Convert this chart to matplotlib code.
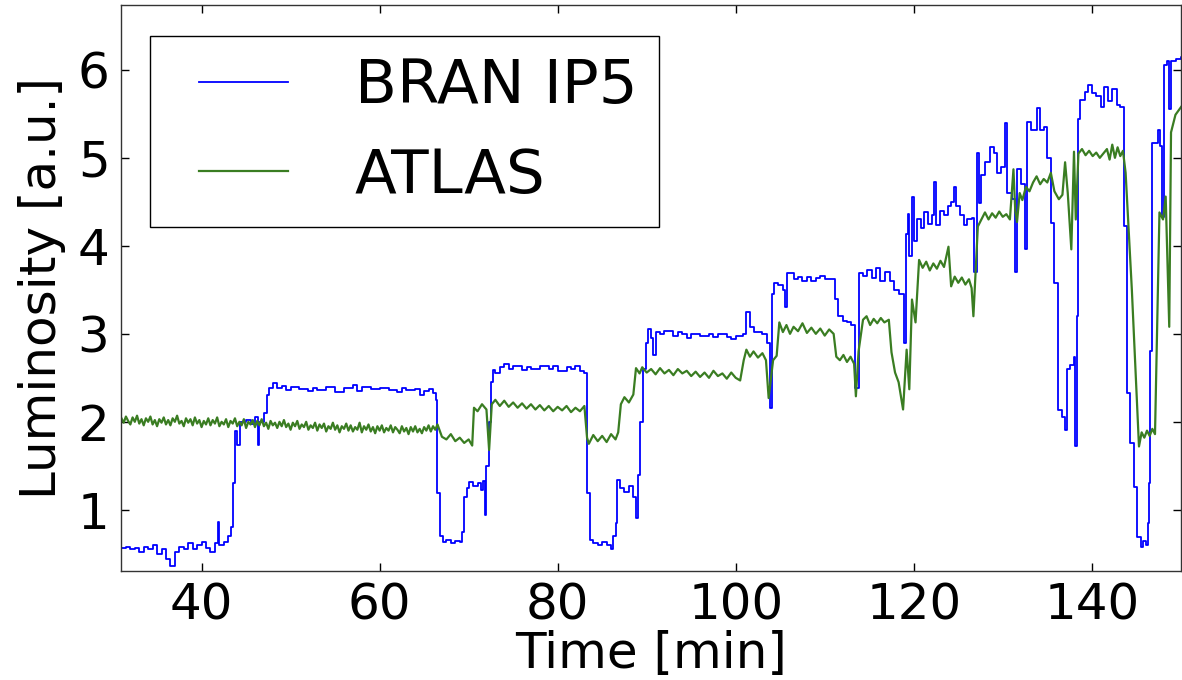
import numpy as np
import matplotlib.pyplot as plt
from matplotlib.lines import Line2D
from matplotlib.legend_handler import HandlerLine2D

# %% luminosity traces, (time [min], luminosity [a.u.])
bran_ip5 = [
    (31.0, 0.57), (31.5, 0.58), (32.0, 0.55), (32.5, 0.57), (33.0, 0.52), (33.5, 0.58),
    (34.0, 0.55), (34.5, 0.60), (35.0, 0.50), (35.5, 0.56), (36.0, 0.44), (36.5, 0.36),
    (37.0, 0.52), (37.5, 0.58), (38.0, 0.56), (38.5, 0.62), (39.0, 0.55), (39.5, 0.60),
    (40.0, 0.63), (40.5, 0.57), (41.0, 0.52), (41.5, 0.62), (41.8, 0.86), (42.0, 0.60),
    (42.5, 0.63), (43.0, 0.70), (43.3, 0.80), (43.5, 1.30), (43.7, 1.90), (44.0, 1.74),
    (44.3, 2.00), (45.0, 2.02), (45.5, 1.97), (46.0, 2.05), (46.3, 1.74), (46.5, 2.00),
    (47.0, 2.10), (47.4, 2.30), (47.6, 2.39), (48.0, 2.44), (48.5, 2.38), (49.0, 2.41),
    (49.5, 2.36), (50.0, 2.40), (51.0, 2.37), (52.0, 2.35), (52.5, 2.38), (53.0, 2.36),
    (54.0, 2.40), (55.0, 2.34), (56.0, 2.38), (57.0, 2.42), (57.5, 2.35), (58.0, 2.40),
    (59.0, 2.37), (60.0, 2.38), (61.0, 2.36), (62.0, 2.34), (62.5, 2.38), (63.0, 2.36),
    (64.0, 2.37), (64.5, 2.30), (65.0, 2.35), (65.5, 2.37), (66.0, 2.33), (66.3, 2.25),
    (66.5, 1.19), (66.8, 0.70), (67.1, 0.63), (67.5, 0.66), (68.0, 0.62), (68.5, 0.65),
    (69.0, 0.63), (69.3, 0.75), (69.5, 1.15), (69.8, 1.25), (70.0, 1.32), (70.5, 1.27),
    (71.0, 1.30), (71.4, 1.22), (71.6, 1.33), (71.8, 0.94), (72.0, 1.50), (72.3, 2.00),
    (72.5, 2.45), (72.7, 2.59), (73.0, 2.55), (73.5, 2.62), (74.0, 2.66), (74.5, 2.60),
    (75.0, 2.63), (76.0, 2.59), (76.5, 2.62), (77.0, 2.60), (78.0, 2.63), (79.0, 2.60),
    (79.5, 2.64), (80.0, 2.58), (81.0, 2.62), (81.5, 2.60), (82.0, 2.63), (82.5, 2.58),
    (83.0, 2.55), (83.3, 1.19), (83.6, 0.66), (84.0, 0.62), (84.5, 0.60), (85.0, 0.63),
    (85.5, 0.60), (86.0, 0.56), (86.2, 0.70), (86.5, 0.85), (86.7, 1.34), (87.0, 1.25),
    (87.5, 1.20), (88.0, 1.27), (88.5, 1.15), (88.8, 0.91), (89.0, 1.40), (89.3, 2.00),
    (89.6, 2.60), (89.9, 2.90), (90.1, 3.05), (90.5, 2.95), (90.7, 2.76), (91.0, 3.02),
    (91.5, 3.00), (92.0, 3.03), (93.0, 2.98), (93.5, 3.02), (94.0, 3.00), (94.5, 2.95),
    (95.0, 3.00), (96.0, 2.97), (97.0, 3.00), (97.5, 2.96), (98.0, 3.00), (99.0, 2.96),
    (99.5, 2.94), (100.0, 2.97), (100.8, 3.00), (101.2, 3.25), (101.6, 3.08), (102.1, 3.02),
    (103.0, 3.00), (103.5, 2.90), (103.8, 2.16), (104.1, 3.45), (104.3, 3.58), (104.8, 3.55),
    (105.3, 3.50), (105.5, 3.31), (105.8, 3.69), (106.5, 3.62), (107.0, 3.65), (107.5, 3.60),
    (108.0, 3.65), (108.5, 3.60), (109.0, 3.63), (109.5, 3.66), (110.0, 3.62), (110.5, 3.62),
    (111.2, 3.40), (111.5, 3.20), (112.0, 3.15), (112.5, 3.13), (113.0, 3.10), (113.4, 2.39),
    (113.8, 3.69), (114.3, 3.66), (114.8, 3.72), (115.3, 3.64), (115.8, 3.75), (116.2, 3.60),
    (116.8, 3.70), (117.3, 3.60), (117.8, 3.50), (118.3, 3.45), (118.9, 2.90), (119.1, 4.13),
    (119.3, 4.36), (119.5, 3.88), (119.8, 4.56), (120.0, 4.05), (120.4, 4.30), (120.8, 4.20),
    (121.2, 4.38), (121.6, 4.25), (122.0, 4.35), (122.3, 4.72), (122.5, 4.24), (122.9, 4.40),
    (123.4, 4.35), (123.8, 4.45), (124.2, 4.50), (124.5, 4.67), (124.8, 4.45), (125.2, 4.35),
    (125.6, 4.24), (126.0, 4.30), (126.5, 4.32), (126.8, 3.70), (127.1, 5.06), (127.3, 4.49),
    (127.6, 4.80), (128.0, 4.95), (128.6, 5.12), (129.0, 5.05), (129.4, 4.83), (129.8, 4.90),
    (130.2, 5.40), (130.5, 4.60), (131.0, 4.53), (131.4, 3.70), (131.6, 4.87), (132.0, 4.70),
    (132.5, 3.96), (132.7, 5.41), (133.2, 5.32), (133.8, 5.57), (134.2, 5.32), (134.6, 5.35),
    (135.0, 5.00), (135.4, 4.26), (135.7, 3.58), (136.2, 2.14), (136.6, 2.06), (137.0, 1.91),
    (137.2, 2.60), (137.6, 2.65), (138.0, 2.74), (138.1, 1.72), (138.3, 3.20), (138.5, 5.44),
    (138.7, 5.66), (139.2, 5.75), (139.6, 5.83), (140.0, 5.74), (140.5, 5.70), (141.0, 5.58),
    (141.4, 5.80), (141.8, 5.65), (142.3, 5.78), (142.8, 5.60), (143.2, 5.58), (143.6, 4.22),
    (143.9, 2.33), (144.3, 1.76), (144.7, 1.26), (145.1, 0.69), (145.5, 0.58), (145.8, 0.64),
    (146.1, 0.60), (146.3, 0.85), (146.4, 1.30), (146.5, 2.80), (146.8, 5.17), (147.4, 5.32),
    (147.7, 5.13), (147.9, 4.33), (148.1, 6.06), (148.5, 6.10), (148.7, 5.55), (148.9, 6.10),
    (149.5, 6.12), (150.0, 6.15), (150.5, 6.13),
]

# ATLAS, first part sampled every 0.25 min
atlas_early_t = np.arange(31.0, 66.6, 0.25)
atlas_early_v = [
    2.04, 1.99, 2.06, 2.01, 1.97, 2.05, 2.00, 2.07, 1.98, 2.03,
    1.96, 2.04, 2.00, 2.06, 1.97, 2.02, 1.95, 2.03, 1.99, 2.05,
    1.97, 2.02, 1.96, 2.04, 2.00, 2.07, 1.98, 2.01, 1.95, 2.04,
    1.99, 2.03, 1.96, 2.05, 1.98, 2.02, 1.94, 2.01, 1.97, 2.04,
    1.96, 2.02, 1.98, 2.05, 1.95, 2.00, 1.97, 2.03, 1.94, 2.01,
    1.98, 2.04, 1.95, 2.00, 1.96, 2.03, 1.93, 2.00, 1.97, 2.02,
    1.94, 2.01, 1.96, 2.03, 1.95, 1.99, 1.92, 2.01, 1.96, 1.99,
    1.93, 2.00, 1.95, 2.02, 1.94, 1.98, 1.91, 1.99, 1.95, 2.01,
    1.92, 1.97, 1.94, 2.00, 1.91, 1.96, 1.93, 1.99, 1.90, 1.97,
    1.93, 1.98, 1.89, 1.95, 1.92, 1.99, 1.91, 1.96, 1.88, 1.95,
    1.92, 1.98, 1.90, 1.96, 1.89, 1.94, 1.91, 1.99, 1.88, 1.95,
    1.91, 1.97, 1.89, 1.94, 1.87, 1.95, 1.90, 1.96, 1.88, 1.93,
    1.90, 1.96, 1.88, 1.94, 1.91, 1.87, 1.95, 1.89, 1.93, 1.86,
    1.94, 1.89, 1.95, 1.88, 1.92, 1.87, 1.94, 1.90, 1.96, 1.89,
    1.95, 1.91, 1.97,
]
atlas_late = [
    (67.0, 1.83), (67.5, 1.80), (68.0, 1.86), (68.5, 1.78), (69.0, 1.82), (69.5, 1.76),
    (70.0, 1.80), (70.4, 1.73), (70.6, 2.16), (71.0, 2.12), (71.5, 2.20), (72.0, 2.14),
    (72.3, 1.68), (72.6, 2.20), (73.0, 2.25), (73.5, 2.18), (74.0, 2.24), (74.5, 2.17),
    (75.0, 2.22), (75.5, 2.16), (76.0, 2.21), (76.5, 2.15), (77.0, 2.20), (77.5, 2.14),
    (78.0, 2.19), (78.5, 2.13), (79.0, 2.18), (79.5, 2.12), (80.0, 2.17), (80.5, 2.13),
    (81.0, 2.18), (81.5, 2.11), (82.0, 2.16), (82.5, 2.12), (83.0, 2.18), (83.3, 1.82),
    (83.5, 1.75), (84.0, 1.85), (84.5, 1.78), (85.0, 1.84), (85.5, 1.77), (86.0, 1.86),
    (86.5, 1.80), (86.8, 1.88), (87.1, 2.20), (87.5, 2.28), (88.0, 2.22), (88.5, 2.31),
    (88.8, 2.61), (89.2, 2.55), (89.5, 2.62), (90.0, 2.56), (90.5, 2.60), (91.0, 2.54),
    (91.5, 2.61), (92.0, 2.55), (92.5, 2.59), (93.0, 2.53), (93.5, 2.60), (94.0, 2.55),
    (94.5, 2.58), (95.0, 2.52), (95.5, 2.57), (96.0, 2.51), (96.5, 2.56), (97.0, 2.50),
    (97.5, 2.58), (98.0, 2.52), (98.5, 2.55), (99.0, 2.49), (99.5, 2.56), (100.0, 2.50),
    (100.5, 2.47), (100.9, 2.70), (101.2, 2.82), (101.6, 2.74), (102.0, 2.80), (102.5, 2.73),
    (103.0, 2.78), (103.4, 2.70), (103.7, 2.27), (104.2, 2.70), (104.6, 2.75), (104.9, 3.13),
    (105.3, 3.02), (105.7, 3.10), (106.1, 3.00), (106.5, 3.08), (107.0, 3.03), (107.5, 3.12),
    (108.0, 3.01), (108.5, 3.07), (109.0, 3.00), (109.5, 3.06), (110.0, 2.98), (110.5, 3.05),
    (111.0, 3.00), (111.3, 2.74), (111.7, 2.70), (112.1, 2.76), (112.5, 2.68), (112.9, 2.74),
    (113.3, 2.66), (113.5, 2.29), (113.8, 2.80), (114.3, 3.16), (114.7, 3.20), (115.1, 3.10),
    (115.5, 3.17), (115.9, 3.12), (116.3, 3.18), (116.7, 3.13), (117.2, 3.16), (117.5, 2.79),
    (117.9, 2.56), (118.3, 2.45), (118.8, 2.14), (119.2, 2.82), (119.5, 2.37), (119.8, 3.39),
    (120.2, 3.13), (120.6, 3.84), (121.0, 3.75), (121.4, 3.82), (121.8, 3.72), (122.2, 3.80),
    (122.6, 3.74), (123.0, 3.83), (123.4, 3.76), (123.9, 3.99), (124.2, 3.54), (124.6, 3.65),
    (125.0, 3.58), (125.4, 3.64), (125.8, 3.56), (126.2, 3.62), (126.5, 3.52), (126.7, 3.20),
    (127.2, 4.22), (127.6, 4.30), (128.0, 4.38), (128.4, 4.30), (128.8, 4.37), (129.2, 4.32),
    (129.6, 4.39), (130.0, 4.33), (130.4, 4.36), (130.8, 4.30), (131.2, 4.87), (131.4, 4.40),
    (131.6, 4.27), (131.9, 4.60), (132.2, 4.52), (132.6, 4.67), (133.0, 4.62), (133.4, 4.72),
    (133.8, 4.79), (134.2, 4.70), (134.6, 4.76), (135.0, 4.72), (135.4, 4.83), (135.8, 4.62),
    (136.3, 4.53), (136.7, 4.58), (137.0, 4.95), (137.3, 4.60), (137.7, 3.96), (138.0, 5.07),
    (138.2, 4.30), (138.5, 5.05), (138.9, 5.10), (139.3, 5.03), (139.7, 5.08), (140.1, 5.02),
    (140.5, 5.06), (140.9, 5.00), (141.3, 5.05), (141.7, 5.10), (142.0, 4.98), (142.3, 5.15),
    (142.6, 5.00), (142.9, 5.12), (143.2, 5.02), (143.5, 5.08), (143.8, 4.83), (144.2, 4.07),
    (144.5, 3.50), (145.1, 2.17), (145.3, 1.72), (145.6, 1.88), (145.9, 1.82), (146.2, 1.90),
    (146.5, 1.84), (146.8, 1.92), (147.1, 1.86), (147.6, 4.38), (148.0, 4.30), (148.3, 4.56),
    (148.7, 3.08), (148.9, 5.29), (149.4, 5.49), (149.9, 5.56), (150.4, 5.63),
]

bran_t, bran_v = np.array(bran_ip5).T
atlas_t = np.concatenate([atlas_early_t, np.array(atlas_late)[:, 0]])
atlas_v = np.concatenate([atlas_early_v, np.array(atlas_late)[:, 1]])

# %% plot
fig = plt.figure(figsize=(11.82, 6.8), dpi=100)
ax = fig.add_axes([0.102, 0.161, 0.897, 0.832])

ax.plot(bran_t, bran_v, color='#0000ff', lw=1.3, drawstyle='steps-post', label='BRAN IP5')
ax.plot(atlas_t, atlas_v, color='#3a7d22', lw=1.6, label='ATLAS')

ax.set_xlim(30.9, 150.0)
ax.set_ylim(0.31, 6.74)
ax.set_xticks([40, 60, 80, 100, 120, 140])
ax.set_yticks([1, 2, 3, 4, 5, 6])
ax.tick_params(direction='in', length=6, width=1, top=True, right=True,
               labelsize=36, pad=8)
for s in ax.spines.values():
    s.set_linewidth(1.0)
    s.set_color('#333333')

ax.set_xlabel('Time [min]', fontsize=36, labelpad=0)
ax.set_ylabel('Luminosity [a.u.]', fontsize=36, labelpad=8)

# legend handle inset a little from the frame edge
leg = ax.legend(loc='upper left', bbox_to_anchor=(0.028, 0.945), borderaxespad=0,
                fontsize=44, handlelength=1.9, handletextpad=1.1, labelspacing=0.5,
                borderpad=0.35, fancybox=False, framealpha=1,
                handler_map={Line2D: HandlerLine2D(xpad=0.45)})
leg.get_frame().set_edgecolor('black')
leg.get_frame().set_linewidth(1.0)

fig.savefig('out.png', dpi=100)
